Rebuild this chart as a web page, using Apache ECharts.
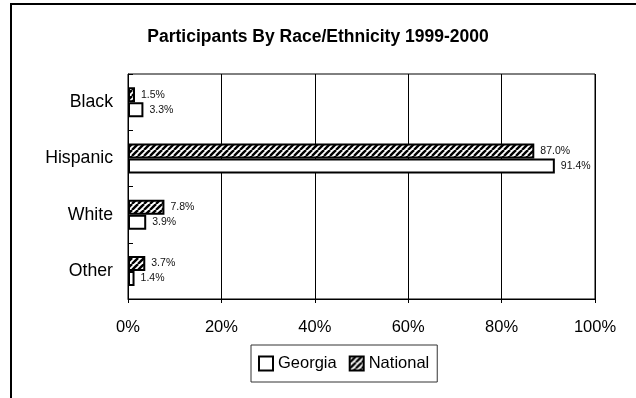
<!DOCTYPE html>
<html>
<head>
<meta charset="utf-8">
<script src="https://cdn.jsdelivr.net/npm/echarts@6/dist/echarts.min.js"></script>
<style>
  html, body { margin: 0; padding: 0; background: #fff; }
  #main { width: 636px; height: 398px; }
</style>
</head>
<body>
<div id="main"></div>
<script>
const categories = ['Black', 'Hispanic', 'White', 'Other'];
const georgia = [3.3, 91.4, 3.9, 1.4];
const national = [1.5, 87.0, 7.8, 3.7];
const xTicks = [0, 20, 40, 60, 80, 100];

const FONT = '"Liberation Sans", Arial, sans-serif';

// diagonal hatch like the old excel fill
function hatch() {
  const c = document.createElement('canvas');
  c.width = 6;
  c.height = 6;
  const ctx = c.getContext('2d');
  ctx.fillStyle = '#fff';
  ctx.fillRect(0, 0, 6, 6);
  ctx.strokeStyle = '#000';
  ctx.lineWidth = 2.4;
  for (const o of [-6, 0, 6]) {
    ctx.beginPath();
    ctx.moveTo(o, 6);
    ctx.lineTo(o + 6, 0);
    ctx.stroke();
  }
  return c;
}

const chart = echarts.init(document.getElementById('main'));

const barLabel = {
  show: true,
  position: 'right',
  distance: 6,
  fontFamily: FONT,
  fontSize: 10.5,
  color: '#111',
  formatter: p => p.value.toFixed(1) + '%'
};

chart.setOption({
  animation: false,
  backgroundColor: '#fff',
  graphic: [{
    type: 'rect',
    shape: { x: 11, y: 4, width: 700, height: 500 },
    style: { fill: 'none', stroke: '#000', lineWidth: 2 },
    silent: true
  }],
  title: {
    text: 'Participants By Race/Ethnicity 1999-2000',
    left: 'center',
    top: 28,
    padding: 0,
    textStyle: {
      fontFamily: FONT,
      fontSize: 17.5,
      fontWeight: 'bold',
      color: '#000'
    }
  },
  legend: {
    data: ['Georgia', 'National'],
    left: 251,
    top: 345,
    padding: [10, 8, 10, 7],
    itemGap: 12,
    itemWidth: 14,
    itemHeight: 14,
    borderColor: '#333',
    borderWidth: 1,
    icon: 'rect',
    textStyle: { fontFamily: FONT, fontSize: 16.5, color: '#000' }
  },
  grid: {
    left: 128,
    right: 41,
    top: 74,
    bottom: 99,
    show: true,
    borderColor: '#000',
    borderWidth: 1
  },
  xAxis: {
    type: 'value',
    min: xTicks[0],
    max: xTicks[xTicks.length - 1],
    interval: 20,
    axisLine: { show: true, lineStyle: { color: '#000' } },
    axisTick: { show: true, length: 4, lineStyle: { color: '#000' } },
    splitLine: { lineStyle: { color: '#000', width: 1 } },
    axisLabel: {
      margin: 20,
      fontFamily: FONT,
      fontSize: 16.5,
      color: '#000',
      formatter: '{value}%'
    }
  },
  yAxis: {
    type: 'category',
    inverse: true,
    data: categories,
    axisLine: { show: true, lineStyle: { color: '#000' } },
    axisTick: { show: true, inside: true, length: 5, lineStyle: { color: '#000' } },
    axisLabel: {
      margin: 15,
      fontFamily: FONT,
      fontSize: 17.7,
      color: '#000'
    }
  },
  series: [
    {
      name: 'National',
      type: 'bar',
      data: national,
      barWidth: 15,
      barGap: '0%',
      itemStyle: {
        color: { image: hatch(), repeat: 'repeat' },
        borderColor: '#000',
        borderWidth: 2
      },
      label: barLabel
    },
    {
      name: 'Georgia',
      type: 'bar',
      data: georgia,
      barWidth: 15,
      barGap: '0%',
      itemStyle: {
        color: '#fff',
        borderColor: '#000',
        borderWidth: 2
      },
      label: barLabel
    }
  ]
});
</script>
</body>
</html>
